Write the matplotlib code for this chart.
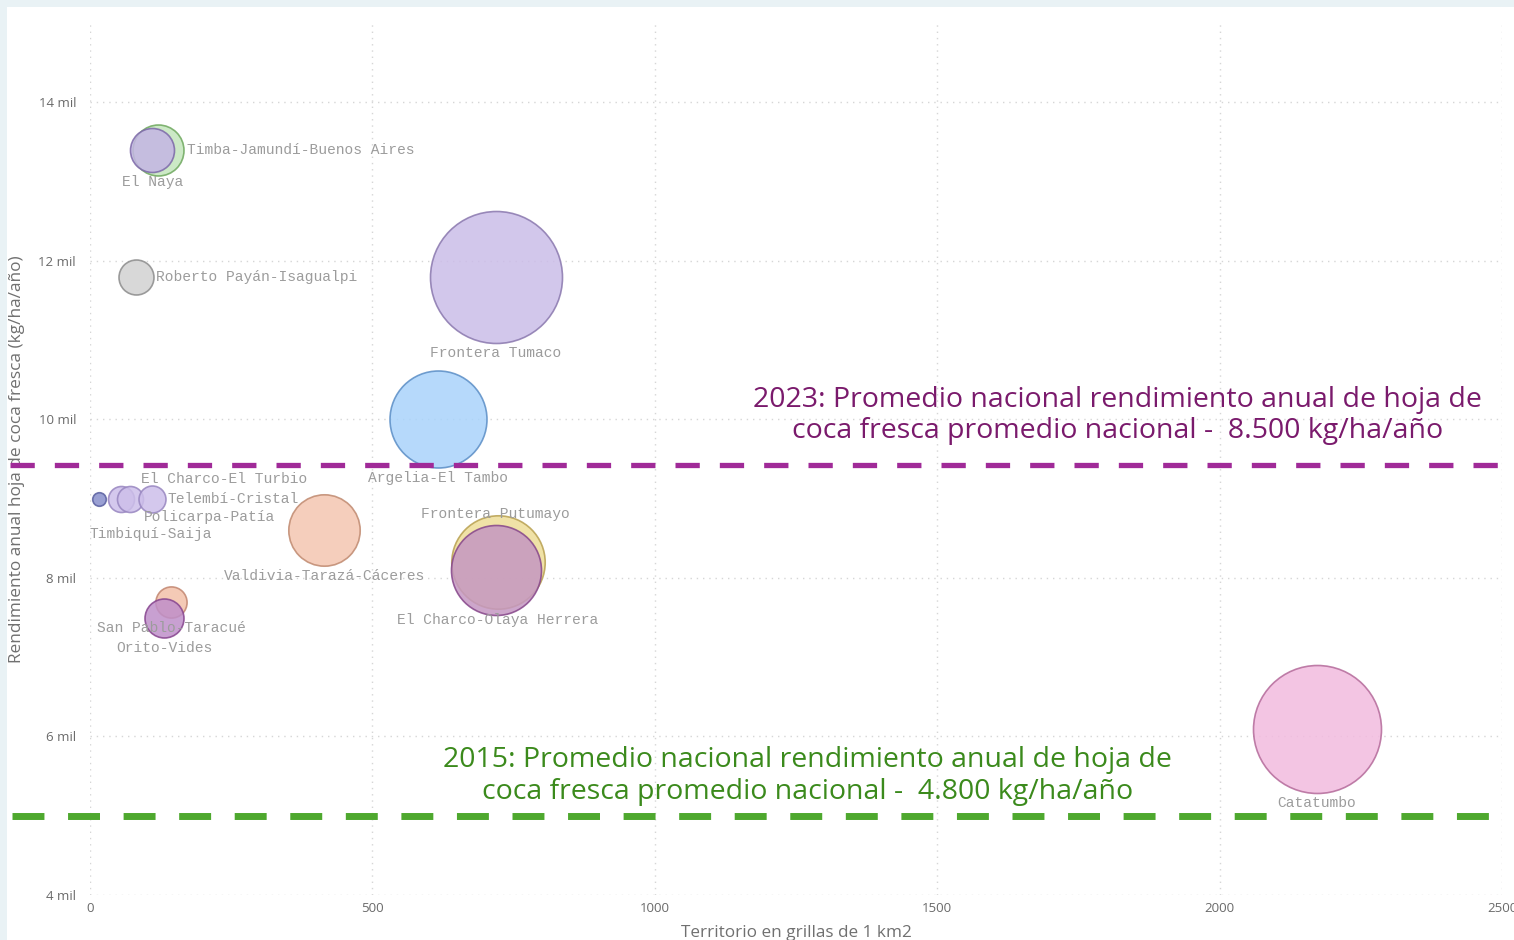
import matplotlib
matplotlib.use("Agg")
import matplotlib.pyplot as plt
from matplotlib.patches import Rectangle
from matplotlib.transforms import blended_transform_factory, offset_copy

# ---------------- data ----------------
regions = ["Timba-Jamundí-Buenos Aires", "El Naya", "Roberto Payán-Isagualpi",
           "Frontera Tumaco", "Argelia-El Tambo", "Timbiquí-Saija",
           "Policarpa-Patía", "El Charco-El Turbio", "Telembí-Cristal",
           "Valdivia-Tarazá-Cáceres", "Frontera Putumayo", "El Charco-Olaya Herrera",
           "San Pablo-Taracué", "Orito-Vides", "Catatumbo"]
territorio = [121, 110, 81, 718, 617, 16, 55, 70, 109, 415, 722, 718, 144, 131, 2172]
rendimiento = [13400, 13400, 11800, 11800, 10000, 9000, 9000, 9000, 9000,
               8600, 8200, 8100, 7700, 7500, 6100]
tamano = [650, 484, 306, 4356, 2352, 46, 169, 169, 182, 1274, 2181, 2025, 243, 380, 4096]

xticks = [0, 500, 1000, 1500, 2000, 2500]
yticks = [4000, 6000, 8000, 10000, 12000, 14000]
ytick_labels = ["4 mil", "6 mil", "8 mil", "10 mil", "12 mil", "14 mil"]

prom_2023 = 9430   # drawn position of 2023 reference line
prom_2015 = 5000   # drawn position of 2015 reference line
txt_2023 = "2023: Promedio nacional rendimiento anual de hoja de\ncoca fresca promedio nacional -  8.500 kg/ha/año"
txt_2015 = "2015: Promedio nacional rendimiento anual de hoja de\ncoca fresca promedio nacional -  4.800 kg/ha/año"

# ---------------- styles ----------------
fills = ["#c4e6bc", "#c4b6e4", "#d2d2d2", "#cbbde8", "#a9d3fb", "#8890cc",
         "#cdbfea", "#cdbfea", "#cdbfea", "#f4c6b1", "#eedd98", "#c597c2",
         "#f3c1aa", "#bf8fc9", "#f2bbdf"]
edges = ["#6ea85e", "#7c68a8", "#8c8c8c", "#8a78ae", "#5b8ec6", "#5a60a0",
         "#9886c0", "#9886c0", "#9886c0", "#c08a70", "#b8a050", "#86468a",
         "#c28670", "#86448e", "#b46a9a"]
# label offsets in pixels (dx, dy downward), horizontal alignment
lab_off = [(29, 0, "left"), (0, 32, "center"), (20, 0, "left"), (0, 76, "center"),
           (0, 59, "center"), (52, 35, "center"), (88, 18, "center"), (95, -20, "center"),
           (16, 0, "left"), (0, 46, "center"), (-2, -48, "center"), (2, 50, "center"),
           (0, 26, "center"), (0, 30, "center"), (0, 74, "center")]

W, H, DPI = 1514, 940, 100
fig = plt.figure(figsize=(W / DPI, H / DPI), dpi=DPI, facecolor="white")
fig.patches.append(Rectangle((0, 1 - 7 / H), 1, 7 / H, transform=fig.transFigure,
                             facecolor="#e9f2f5", edgecolor="none", zorder=-10))
fig.patches.append(Rectangle((0, 0), 7 / W, 1, transform=fig.transFigure,
                             facecolor="#e9f2f5", edgecolor="none", zorder=-10))

ax = fig.add_axes([90 / W, 45 / H, (1502 - 90) / W, (895 - 23) / H])
ax.set_facecolor("none")
ax.set_xlim(0, 2500)
ax.set_ylim(4000, 15000)
for s in ax.spines.values():
    s.set_visible(False)
ax.set_xticks(xticks)
ax.set_yticks(yticks)
ax.set_yticklabels(ytick_labels)
ax.tick_params(length=0, labelsize=9.5, labelcolor="#6a6a6a")
ax.tick_params(axis="y", pad=10)
ax.tick_params(axis="x", pad=5)
for lbl in ax.get_xticklabels() + ax.get_yticklabels():
    lbl.set_fontfamily("Open Sans")
ax.grid(True, color="#d6d6d6", linestyle=(0, (1, 3.5)), linewidth=1.0)
ax.set_axisbelow(True)

ax.set_xlabel("Territorio en grillas de 1 km2", fontsize=12.3, color="#707070",
              family="Open Sans", labelpad=7)
ax.set_ylabel("Rendimiento anual hoja de coca fresca (kg/ha/año)", fontsize=12.4,
              color="#707070", family="Open Sans", labelpad=10)

# bubbles: marker area in pt^2 from radius in px (radius^2 ~ tamano)
pt_per_px = 72 / DPI
for i in range(len(regions)):
    s = tamano[i] * (2 * pt_per_px) ** 2
    ax.scatter(territorio[i], rendimiento[i], s=s, color=fills[i], edgecolors=edges[i],
               linewidths=1.2, alpha=0.85, zorder=3 + i * 0.01)

for i, name in enumerate(regions):
    dx, dy, ha = lab_off[i]
    tr = offset_copy(ax.transData, fig=fig, x=dx * pt_per_px, y=-dy * pt_per_px, units="points")
    ax.text(territorio[i], rendimiento[i], name, transform=tr, ha=ha, va="center",
            family="Liberation Mono", fontsize=10.5, color="#9c9c9c", zorder=5)

# reference lines spanning the panel
bt = blended_transform_factory(fig.transFigure, ax.transData)
ax.plot([10 / W, 1507 / W], [prom_2023, prom_2023], transform=bt, color="#a02a98",
        linewidth=3.8, dashes=(4.6, 3.8), clip_on=False, zorder=6, dash_capstyle="butt")
ax.plot([12 / W, 1504 / W], [prom_2015, prom_2015], transform=bt, color="#4ea82e",
        linewidth=5.0, dashes=(4.6, 3.4), clip_on=False, zorder=6, dash_capstyle="butt")

ax.text(1820, 10050, txt_2023, ha="center", va="center", fontsize=20.5,
        family="Open Sans", color="#7a1a6c", linespacing=1.17, zorder=7)
ax.text(1270, 5500, txt_2015, ha="center", va="center", fontsize=20.5,
        family="Open Sans", color="#3b8a1c", linespacing=1.17, zorder=7)

fig.savefig("out.png", dpi=DPI, facecolor=fig.get_facecolor())
